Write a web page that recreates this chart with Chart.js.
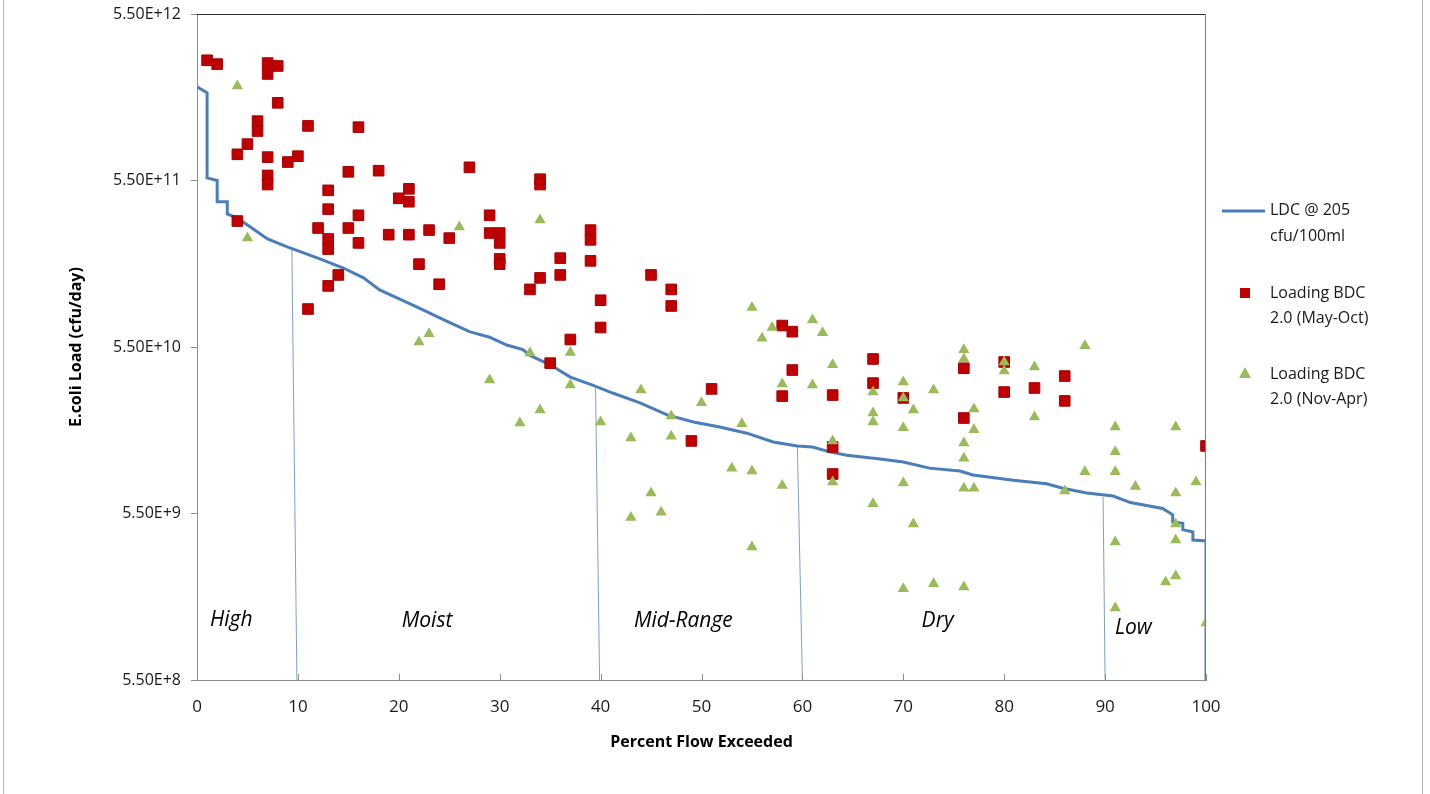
<!DOCTYPE html>
<html>
<head>
<meta charset="utf-8">
<title>E.coli Load Duration Curve</title>
<script src="https://cdn.jsdelivr.net/npm/chart.js@4/dist/chart.umd.min.js"></script>
<style>
  html, body { margin: 0; padding: 0; background: #fff; }
  #wrap { width: 1430px; height: 794px; position: relative; }
</style>
</head>
<body>
<div id="wrap"><canvas id="ldcChart" width="1430" height="794"></canvas></div>
<script>
// load duration curve (LDC @ 205 cfu/100ml)
const ldcFlow = [0, 1, 1, 2, 2, 3, 3, 4, 5, 6, 7, 9, 10.3, 12.5, 14.5, 16.5, 18.1, 20.8, 22.4, 24.1, 27, 29, 30.7, 32.3, 33, 35, 37, 39.2, 41.2, 43.9, 46.6, 49.2, 51.8, 54.5, 57.1, 59.5, 61, 62.7, 64.4, 67.7, 70, 72.6, 75.6, 76.9, 80.9, 84.2, 85.8, 88.2, 90.8, 92.5, 95.7, 96.7, 96.7, 97.7, 97.7, 98.7, 98.7, 99.8, 100, 100];
const ldcLoad = [2.01e12, 1.85e12, 5.7e11, 5.5e11, 4.1e11, 4.1e11, 3.46e11, 3.27e11, 2.97e11, 2.70e11, 2.45e11, 2.19e11, 2.05e11, 1.83e11, 1.64e11, 1.43e11, 1.21e11, 1.02e11, 9.2e10, 8.2e10, 6.8e10, 6.3e10, 5.65e10, 5.3e10, 4.9e10, 4.3e10, 3.63e10, 3.25e10, 2.91e10, 2.54e10, 2.15e10, 1.95e10, 1.82e10, 1.67e10, 1.48e10, 1.40e10, 1.38e10, 1.29e10, 1.23e10, 1.17e10, 1.12e10, 1.03e10, 9.9e9, 9.36e9, 8.7e9, 8.3e9, 7.8e9, 7.3e9, 7.0e9, 6.4e9, 5.9e9, 5.4e9, 4.9e9, 4.8e9, 4.4e9, 4.26e9, 3.81e9, 3.77e9, 3.77e9, 5.5e8];

// Loading BDC 2.0 (May-Oct)
const mayOctFlow = [1, 2, 7, 7, 8, 8, 6, 6, 11, 16, 5, 4, 7, 9, 10, 7, 7, 15, 18, 27, 34, 34, 13, 13, 16, 12, 15, 20, 21, 21, 19, 21, 23, 25, 29, 29, 30, 30, 30, 30, 13, 13, 16, 22, 36, 36, 39, 39, 39, 34, 33, 24, 14, 13, 11, 40, 40, 37, 35, 45, 47, 47, 4, 49, 51, 58, 59, 59, 58, 63, 63, 63, 67, 67, 70, 76, 76, 80, 80, 83, 86, 86, 100];
const mayOctLoad = [2.9e12, 2.75e12, 2.79e12, 2.40e12, 2.68e12, 1.61e12, 1.25e12, 1.09e12, 1.17e12, 1.15e12, 9.1e11, 7.9e11, 7.6e11, 7.1e11, 7.7e11, 5.9e11, 5.2e11, 6.2e11, 6.3e11, 6.6e11, 5.6e11, 5.2e11, 4.8e11, 3.7e11, 3.4e11, 2.85e11, 2.85e11, 4.3e11, 4.9e11, 4.1e11, 2.6e11, 2.6e11, 2.77e11, 2.48e11, 3.4e11, 2.66e11, 2.66e11, 2.32e11, 1.86e11, 1.73e11, 2.45e11, 2.13e11, 2.32e11, 1.73e11, 1.88e11, 1.49e11, 2.77e11, 2.42e11, 1.81e11, 1.43e11, 1.22e11, 1.31e11, 1.49e11, 1.28e11, 9.3e10, 1.05e11, 7.2e10, 6.1e10, 4.4e10, 1.49e11, 1.22e11, 9.7e10, 3.14e11, 1.50e10, 3.08e10, 7.4e10, 6.8e10, 4.0e10, 2.79e10, 2.83e10, 1.38e10, 9.5e9, 4.66e10, 3.34e10, 2.72e10, 4.1e10, 2.06e10, 4.47e10, 2.95e10, 3.12e10, 3.68e10, 2.61e10, 1.40e10];

// Loading BDC 2.0 (Nov-Apr)
const novAprFlow = [4, 5, 26, 34, 22, 23, 29, 33, 37, 37, 34, 32, 40, 43, 43, 44, 45, 46, 47, 47, 50, 53, 54, 55, 55, 55, 56, 57, 58, 58, 61, 61, 62, 63, 63, 63, 67, 67, 67, 67, 70, 70, 70, 70, 70, 71, 71, 73, 73, 76, 76, 76, 76, 76, 76, 77, 77, 77, 80, 80, 83, 83, 86, 88, 88, 91, 91, 91, 91, 91, 93, 96, 97, 97, 97, 97, 97, 99, 100];
const novAprLoad = [2.03e12, 2.48e11, 2.89e11, 3.18e11, 5.9e10, 6.6e10, 3.48e10, 5.06e10, 5.1e10, 3.25e10, 2.30e10, 1.92e10, 1.95e10, 1.56e10, 5.2e9, 3.03e10, 7.3e9, 5.6e9, 2.12e10, 1.60e10, 2.54e10, 1.03e10, 1.90e10, 9.5e10, 9.9e9, 3.46e9, 6.2e10, 7.2e10, 3.30e10, 8.1e9, 8.0e10, 3.25e10, 6.7e10, 4.3e10, 1.50e10, 8.5e9, 2.95e10, 2.21e10, 1.95e10, 6.3e9, 3.39e10, 2.72e10, 1.80e10, 8.4e9, 1.94e9, 2.30e10, 4.75e9, 3.03e10, 2.08e9, 5.3e10, 4.66e10, 1.46e10, 1.18e10, 7.8e9, 1.99e9, 2.33e10, 1.75e10, 7.8e9, 4.47e10, 3.94e10, 4.17e10, 2.09e10, 7.5e9, 5.6e10, 9.8e9, 1.82e10, 1.29e10, 9.8e9, 3.71e9, 1.49e9, 8.0e9, 2.13e9, 2.32e9, 1.82e10, 7.3e9, 4.75e9, 3.81e9, 8.5e9, 1.21e9];

// flow regime dividers (top meets the curve, bottom on the axis)
const regimeTopFlow = [9.4, 39.5, 59.5, 89.8];
const regimeTopLoad = [2.12e11, 3.1e10, 1.40e10, 6.9e9];
const regimeBottomFlow = [9.9, 39.9, 60, 90];

// flow regime names
const regimeNames = ["High", "Moist", "Mid-Range", "Dry", "Low"];
const regimeNameFlow = [3.4, 22.8, 48.2, 73.4, 92.8];
const regimeNameLoad = [1.26e9, 1.24e9, 1.24e9, 1.24e9, 1.13e9];

// axes
const xTicks = [0, 10, 20, 30, 40, 50, 60, 70, 80, 90, 100];
const yTicks = [5.5e8, 5.5e9, 5.5e10, 5.5e11, 5.5e12];

const BLUE = "#4a7ebb";
const RED = "#c00000";
const GREEN = "#9bbb59";

function toPoints(xs, ys) {
  return xs.map((x, i) => ({ x: x, y: ys[i] }));
}

function sciLabel(v) {
  return v.toExponential(2).toUpperCase();
}

const regimeLineSets = regimeTopFlow.map((x, i) => ({
  label: "regime" + i,
  data: [{ x: x, y: regimeTopLoad[i] }, { x: regimeBottomFlow[i], y: yTicks[0] }],
  showLine: true,
  borderColor: "#7f9fd0",
  borderWidth: 1,
  pointRadius: 0,
  order: 3
}));

const decorPlugin = {
  id: "decor",
  beforeDraw(chart) {
    const ctx = chart.ctx;
    ctx.save();
    ctx.fillStyle = "#ffffff";
    ctx.fillRect(0, 0, chart.width, chart.height);
    // outer frame
    ctx.strokeStyle = "#b8b8b8";
    ctx.lineWidth = 1;
    ctx.beginPath();
    ctx.moveTo(3.5, 0); ctx.lineTo(3.5, chart.height);
    ctx.moveTo(1422.5, 0); ctx.lineTo(1422.5, chart.height);
    ctx.stroke();
    ctx.restore();
  },
  afterDraw(chart) {
    const ctx = chart.ctx;
    const area = chart.chartArea;
    const xs = chart.scales.x;
    const ys = chart.scales.y;
    ctx.save();

    // plot border top + right
    ctx.lineWidth = 1;
    ctx.strokeStyle = "#303030";
    ctx.beginPath();
    ctx.moveTo(area.left, area.top + 0.5);
    ctx.lineTo(area.right, area.top + 0.5);
    ctx.stroke();
    ctx.strokeStyle = "#7a7a7a";
    ctx.beginPath();
    ctx.moveTo(area.right - 0.5, area.top);
    ctx.lineTo(area.right - 0.5, area.bottom);
    ctx.stroke();

    // x tick marks point inward
    ctx.strokeStyle = "#8c8c8c";
    ctx.beginPath();
    xTicks.forEach(t => {
      const px = Math.round(xs.getPixelForValue(t)) + 0.5;
      ctx.moveTo(px, area.bottom);
      ctx.lineTo(px, area.bottom - 6);
    });
    ctx.stroke();

    // regime names
    ctx.fillStyle = "#000";
    ctx.font = "italic 21px 'Open Sans', Lato, sans-serif";
    ctx.textAlign = "center";
    ctx.textBaseline = "middle";
    regimeNames.forEach((name, i) => {
      ctx.fillText(name, xs.getPixelForValue(regimeNameFlow[i]), ys.getPixelForValue(regimeNameLoad[i]));
    });

    // axis titles
    ctx.font = "bold 16px 'Open Sans', Lato, sans-serif";
    ctx.fillText("Percent Flow Exceeded", (area.left + area.right) / 2, 742);
    ctx.save();
    ctx.translate(76, (area.top + area.bottom) / 2);
    ctx.rotate(-Math.PI / 2);
    ctx.fillText("E.coli Load (cfu/day)", 0, 0);
    ctx.restore();

    // legend
    ctx.textAlign = "left";
    ctx.font = "16px 'Open Sans', Lato, sans-serif";
    ctx.fillStyle = "#1a1a1a";
    ctx.strokeStyle = BLUE;
    ctx.lineWidth = 3;
    ctx.beginPath();
    ctx.moveTo(1222, 211);
    ctx.lineTo(1265, 211);
    ctx.stroke();
    ctx.fillText("LDC @ 205", 1270, 210);
    ctx.fillText("cfu/100ml", 1270, 236);

    ctx.fillStyle = RED;
    ctx.fillRect(1240, 288, 10, 10);
    ctx.fillStyle = "#1a1a1a";
    ctx.fillText("Loading BDC", 1270, 293);
    ctx.fillText("2.0 (May-Oct)", 1270, 318);

    ctx.fillStyle = GREEN;
    ctx.beginPath();
    ctx.moveTo(1245, 367);
    ctx.lineTo(1251, 378);
    ctx.lineTo(1239, 378);
    ctx.closePath();
    ctx.fill();
    ctx.fillStyle = "#1a1a1a";
    ctx.fillText("Loading BDC", 1270, 374);
    ctx.fillText("2.0 (Nov-Apr)", 1270, 399);

    ctx.restore();
  }
};

new Chart(document.getElementById("ldcChart"), {
  type: "scatter",
  data: {
    datasets: [
      {
        label: "Loading BDC 2.0 (Nov-Apr)",
        data: toPoints(novAprFlow, novAprLoad),
        pointStyle: "triangle",
        pointRadius: 6.5,
        pointBackgroundColor: GREEN,
        pointBorderColor: GREEN,
        pointBorderWidth: 0,
        order: 0
      },
      {
        label: "Loading BDC 2.0 (May-Oct)",
        data: toPoints(mayOctFlow, mayOctLoad),
        pointStyle: "rect",
        pointRadius: 7.5,
        pointBackgroundColor: RED,
        pointBorderColor: "#a50000",
        pointBorderWidth: 1,
        order: 1
      },
      {
        label: "LDC @ 205 cfu/100ml",
        data: toPoints(ldcFlow, ldcLoad),
        showLine: true,
        borderColor: BLUE,
        borderWidth: 3,
        pointRadius: 0,
        order: 2
      },
      ...regimeLineSets
    ]
  },
  options: {
    responsive: false,
    animation: false,
    layout: { padding: { top: 14, right: 224, left: 0, bottom: 0 } },
    plugins: {
      legend: { display: false },
      tooltip: { enabled: false }
    },
    scales: {
      x: {
        type: "linear",
        min: 0,
        max: 100,
        afterBuildTicks: scale => { scale.ticks = xTicks.map(v => ({ value: v })); },
        afterFit: scale => {
          scale.height = 114;
          scale.paddingLeft = 0;
          scale.paddingRight = 0;
        },
        grid: { display: true, drawOnChartArea: false, drawTicks: false, color: "#8c8c8c" },
        border: { color: "#8c8c8c" },
        ticks: {
          padding: 17,
          color: "#1a1a1a",
          font: { family: "'Liberation Sans Narrow', 'Open Sans', sans-serif", size: 17 },
          maxRotation: 0
        }
      },
      y: {
        type: "logarithmic",
        min: yTicks[0],
        max: yTicks[yTicks.length - 1],
        afterBuildTicks: scale => { scale.ticks = yTicks.map(v => ({ value: v })); },
        afterFit: scale => {
          scale.width = 197;
          scale.paddingTop = 0;
          scale.paddingBottom = 0;
        },
        grid: { drawOnChartArea: false, drawTicks: true, tickLength: 6, color: "#8c8c8c" },
        border: { color: "#8c8c8c" },
        ticks: {
          padding: 10,
          color: "#1a1a1a",
          font: { family: "'Open Sans', Lato, sans-serif", size: 16 },
          callback: v => sciLabel(v)
        }
      }
    }
  },
  plugins: [decorPlugin]
});
</script>
</body>
</html>
